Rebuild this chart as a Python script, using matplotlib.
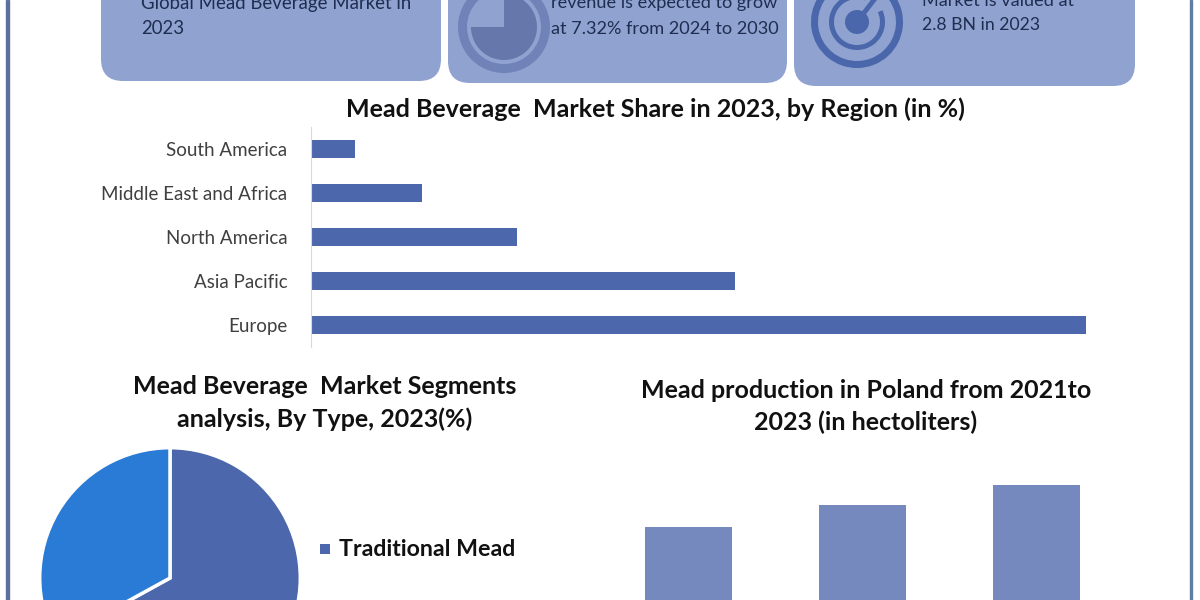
import matplotlib
matplotlib.use('Agg')
import matplotlib.pyplot as plt
from matplotlib.patches import FancyBboxPatch, Wedge, Circle, Rectangle

plt.rcParams['font.family'] = ['Lato', 'DejaVu Sans']

# Data
regions = ['Europe', 'Asia Pacific', 'North America', 'Middle East and Africa', 'South America']
region_share = [49.7, 27.2, 13.2, 7.1, 2.8]

types = ['Traditional Mead', 'Other']
type_share = [67, 33]
type_colors = ['#4c67ac', '#2a7bd5']

years = ['2021', '2022', '2023']
production = [73, 95, 115]

W, H = 1200, 600
fig = plt.figure(figsize=(12, 6), dpi=100, facecolor='white')


def box(x0, y0, x1, y1):
    # pixel box (y going down) -> figure fractions
    return [x0 / W, 1 - y1 / H, (x1 - x0) / W, (y1 - y0) / H]


# Background layer in pixel coordinates
bg = fig.add_axes([0, 0, 1, 1])
bg.set_xlim(0, W)
bg.set_ylim(H, 0)
bg.axis('off')

bg.add_patch(Rectangle((6, 0), 2.5, H, color='#5f6f9c'))
bg.add_patch(Rectangle((1190, 0), 2, H, color='#5f7ea6'))

for x0, x1, yb in [(101, 441, 81), (448, 787, 83), (794, 1135, 86)]:
    bg.add_patch(FancyBboxPatch((x0, -60), x1 - x0, yb + 60,
                                boxstyle='round,pad=0,rounding_size=22',
                                fc='#8fa2d0', ec='none'))

# clock icon (y axis is flipped, so angles run clockwise)
bg.add_patch(Wedge((504, 27), 46, 0, 360, width=9, fc='#6f83b8', ec='none'))
bg.add_patch(Wedge((504, 27), 33, 270, 540, fc='#6577ab', ec='none'))

# target icon
bg.add_patch(Wedge((857, 22), 46, -35, 295, width=7, fc='#4a67ab', ec='none'))
bg.add_patch(Wedge((857, 22), 28, -25, 290, width=5, fc='#4a67ab', ec='none'))
bg.add_patch(Circle((857, 22), 12, fc='#4a67ab', ec='none'))
bg.plot([857, 880], [22, -8], color='#4a67ab', lw=3.5)

card_color = '#1f2d50'
card_text = [
    (141, 3, 'Global Mead Beverage Market in', 13.4),
    (141, 28.5, '2023', 13.4),
    (551, 3, 'revenue is expected to grow', 13.1),
    (551, 28.5, 'at 7.32% from 2024 to 2030', 13.1),
    (922, 1, 'Market is valued at', 13.1),
    (922, 25.5, '2.8 BN in 2023', 12.7),
]
for x, y, s, size in card_text:
    bg.text(x, y, s, fontsize=size, color=card_color, va='center', ha='left')

bg.text(655, 109, 'Mead Beverage  Market Share in 2023, by Region (in %)', fontsize=18,
        fontweight='bold', color='#111111', ha='center', va='center')
bg.text(325, 386, 'Mead Beverage  Market Segments', fontsize=18, fontweight='bold',
        color='#111111', ha='center', va='center')
bg.text(325, 419, 'analysis, By Type, 2023(%)', fontsize=18, fontweight='bold',
        color='#111111', ha='center', va='center')
bg.text(866, 390, 'Mead production in Poland from 2021to', fontsize=18, fontweight='bold',
        color='#111111', ha='center', va='center')
bg.text(866, 422, '2023 (in hectoliters)', fontsize=18, fontweight='bold',
        color='#111111', ha='center', va='center')

# Region bars
ax1 = fig.add_axes(box(311, 127, 1090, 347))
ax1.barh(regions, region_share, height=0.43, color='#4c67ac')
ax1.set_xlim(0, 49.7 * 779 / 775)
ax1.set_ylim(-0.5, 4.5)
ax1.xaxis.set_visible(False)
for s in ['top', 'right', 'bottom']:
    ax1.spines[s].set_visible(False)
ax1.spines['left'].set_color('#d9d9d9')
ax1.tick_params(axis='y', length=0, pad=17, labelsize=13.5, labelcolor='#404040')

# Pie, cut off by the bottom edge like the original
ax2 = fig.add_axes(box(41, 449, 299, 707))
ax2.pie(type_share, colors=type_colors, startangle=90, counterclock=False, radius=1.01,
        wedgeprops={'edgecolor': 'white', 'linewidth': 2.5})
ax2.set_xlim(-1, 1)
ax2.set_ylim(-1, 1)
for w in ax2.patches:
    w.set_clip_on(False)

bg.add_patch(Rectangle((320, 544), 10, 10, fc=type_colors[0], ec='none'))
bg.text(339, 549, types[0], fontsize=16.7, fontweight='bold', color='#111111', ha='left', va='center')

# Production bars, cut off by the bottom edge
ax3 = fig.add_axes(box(601, 440, 1124, 600))
ax3.bar(years, production, width=0.5, color='#7589bf')
ax3.set_xlim(-0.5, 2.5)
ax3.set_ylim(0, 160)
ax3.axis('off')

fig.savefig('out.png', dpi=100)
